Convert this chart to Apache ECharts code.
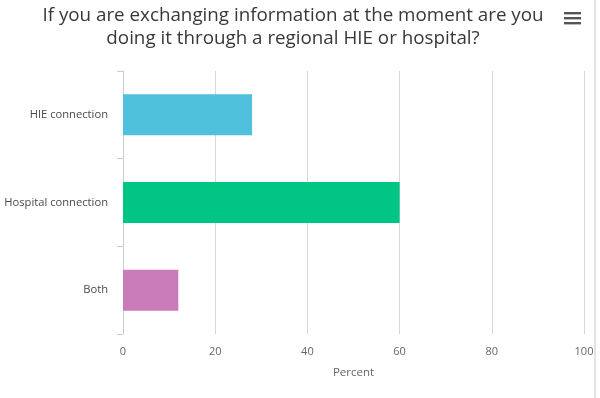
<!DOCTYPE html>
<html>
<head>
<meta charset="utf-8">
<script src="https://cdn.jsdelivr.net/npm/echarts@6/dist/echarts.min.js"></script>
<style>
html,body{margin:0;padding:0;background:#fff;}
#main{width:600px;height:398px;}
</style>
</head>
<body>
<div id="main"></div>
<script>
//数据
var categories = ['HIE connection', 'Hospital connection', 'Both'];
var percents = [28, 60, 12];
var barColors = ['#4fc1dc', '#00c584', '#c97cb8'];
var xTicks = [0, 20, 40, 60, 80, 100];

var myChart = echarts.init(document.getElementById('main'));

//每个柱子单独着色
var barData = percents.map(function(v, i){
	return {value: v, itemStyle: {color: barColors[i]}};
});

var option = {
	animation: false,
	title: {
		text: 'If you are exchanging information at the moment are you\ndoing it through a regional HIE or hospital?',
		left: 293,
		textAlign: 'center',
		top: 0,
		padding: [4, 0, 4, 0],
		textStyle: {
			fontFamily: 'Open Sans',
			fontSize: 18.8,
			fontWeight: 'normal',
			color: '#383838',
			lineHeight: 23
		}
	},
	grid: {left: 123, right: 16, top: 71, bottom: 64},
	xAxis: {
		type: 'value',
		min: xTicks[0],
		max: xTicks[xTicks.length - 1],
		interval: 20,
		name: 'Percent',
		nameLocation: 'middle',
		nameGap: 33,
		nameTextStyle: {fontFamily: 'Open Sans', fontSize: 11.5, color: '#666'},
		axisLine: {show: false},
		axisTick: {show: false},
		axisLabel: {fontFamily: 'Open Sans', fontSize: 11, color: '#666', margin: 12},
		splitLine: {show: true, lineStyle: {color: '#d8d8d8', width: 1}}
	},
	yAxis: {
		type: 'category',
		data: categories,
		inverse: true,
		axisLine: {show: true, lineStyle: {color: '#cccccc'}},
		axisTick: {show: true, length: 6, lineStyle: {color: '#cccccc'}},
		axisLabel: {fontFamily: 'Open Sans', fontSize: 11.2, color: '#4a4a4a', margin: 15}
	},
	series: [{
		type: 'bar',
		data: barData,
		barWidth: 41
	}],
	graphic: [
		//右上角菜单图标
		{type: 'rect', left: 564, top: 12, shape: {width: 17, height: 2.4}, style: {fill: '#555'}},
		{type: 'rect', left: 564, top: 17, shape: {width: 17, height: 2.4}, style: {fill: '#555'}},
		{type: 'rect', left: 564, top: 22, shape: {width: 17, height: 2.4}, style: {fill: '#555'}},
		//右侧边框
		{type: 'rect', left: 594, top: 0, shape: {width: 2, height: 398}, style: {fill: '#e4e4e4'}}
	]
};
myChart.setOption(option);
</script>
</body>
</html>
